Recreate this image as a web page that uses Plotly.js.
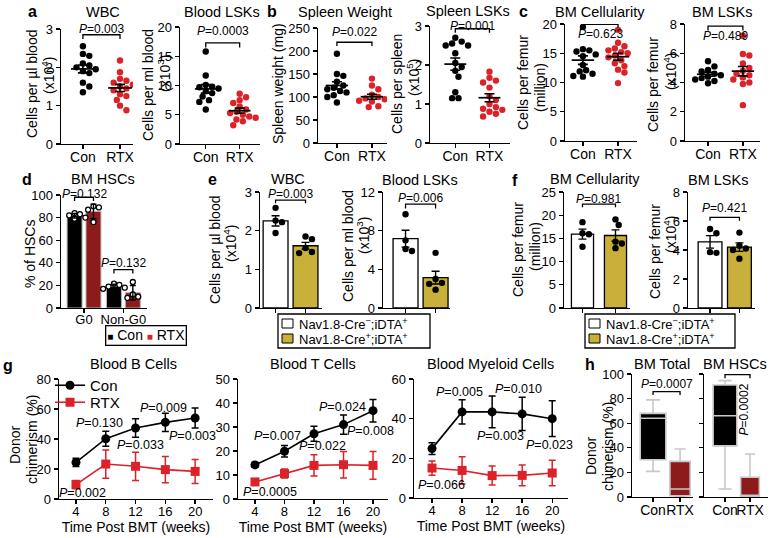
<!DOCTYPE html>
<html><head><meta charset="utf-8">
<script src="https://cdn.plot.ly/plotly-3.0.1.min.js"></script>
<style>body{margin:0;background:#fff}#chart{width:772px;height:538px}</style>
</head><body><div id="chart"></div>
<script>
// ---------------- DATA ----------------
const cats = ["Con", "RTX"];
// a
const wbcCon = [2.55, 2.35, 2.3, 2.1, 2.05, 2.0, 1.95, 1.9, 1.85, 1.6, 1.5, 1.35];
const wbcRtx = [2.18, 1.87, 1.7, 1.65, 1.6, 1.55, 1.5, 1.45, 1.4, 1.3, 1.25, 1.15, 1.0, 0.88];
const bloodLskCon = [15.8, 11.7, 10.1, 9.8, 9.7, 9.5, 9.0, 8.7, 8.1, 7.5, 7.2, 5.9];
const bloodLskRtx = [8.6, 8.0, 7.5, 7.0, 6.4, 5.9, 5.5, 5.3, 5.0, 4.7, 4.5, 4.2, 3.9, 3.2];
// b
const spleenWCon = [194, 150, 146, 133, 125, 120, 117, 113, 110, 104, 100, 88];
const spleenWRtx = [140, 125, 117, 105, 100, 97, 95, 92, 90, 88, 80, 78];
const spleenLskCon = [2.7, 2.6, 2.55, 2.5, 2.5, 2.3, 2.05, 1.95, 1.85, 1.7, 1.3, 1.15, 1.15];
const spleenLskRtx = [1.83, 1.67, 1.6, 1.55, 1.42, 1.2, 1.1, 1.0, 0.92, 0.88, 0.85, 0.8, 0.75, 0.68];
// c
const bmCellCon = [19.5, 15.7, 15.5, 15.3, 14.8, 14.5, 13.0, 12.1, 11.9, 11.5, 11.1, 11.0];
const bmCellRtx = [19.0, 16.8, 16.2, 15.8, 15.5, 15.2, 15.0, 14.6, 14.3, 13.8, 13.3, 12.8, 12.2, 11.7, 9.9];
const bmLskCon = [5.45, 5.1, 4.85, 4.75, 4.6, 4.5, 4.4, 4.3, 4.2, 4.1, 3.95];
const bmLskRtx = [7.2, 5.95, 5.85, 5.3, 5.0, 4.8, 4.6, 4.5, 4.35, 4.2, 4.0, 3.9, 2.45];
// d
const phases = ["G0", "Non-G0"];
const hscConG0 = [84, 83, 82, 80, 79];
const hscRtxG0 = [90, 89, 87, 76];
const hscConNon = [21.5, 20.5, 19, 18, 17];
const hscRtxNon = [23, 12, 10, 9];
// e, f
const dtaNames = ["Nav1.8-Cre<sup>−</sup>;iDTA<sup>+</sup>", "Nav1.8-Cre<sup>+</sup>;iDTA<sup>+</sup>"];
const eWbcNeg = [2.59, 2.26, 2.22, 1.94];
const eWbcPos = [1.85, 1.78, 1.55, 1.45, 1.42];
const eLskNeg = [9.7, 7.0, 6.1, 5.9];
const eLskPos = [5.7, 3.0, 2.6, 2.5, 1.9];
const fCellNeg = [18.5, 16.1, 15.9, 13.2];
const fCellPos = [19.1, 17.9, 14.3, 13.9, 12.9];
const fLskNeg = [5.45, 5.15, 3.85, 3.8];
const fLskPos = [5.2, 4.3, 4.1, 4.0, 3.4];
// g
const weeks = [4, 8, 12, 16, 20];
const bCon = [24.4, 40.2, 47.3, 51.1, 54.0], bConErr = [2.8, 5.0, 6.2, 6.1, 6.7];
const bRtx = [9.6, 23.3, 21.8, 19.6, 18.4], bRtxErr = [2.8, 9.4, 9.4, 8.7, 8.0];
const tCon = [14.2, 19.9, 27.2, 31.0, 36.8], tConErr = [1.0, 2.4, 3.1, 4.0, 4.7];
const tRtx = [7.1, 10.6, 14.0, 14.3, 14.0], tRtxErr = [1.0, 1.9, 4.4, 5.5, 5.8];
const mCon = [24.9, 43.4, 43.4, 42.4, 40.0], mConErr = [3.0, 6.1, 8.0, 8.4, 9.0];
const mRtx = [15.1, 13.9, 11.3, 11.4, 12.6], mRtxErr = [3.6, 6.9, 4.8, 5.2, 6.4];
// h  [lowerfence, q1, median, q3, upperfence]
const hTotalCon = [20.8, 30.3, 64, 68, 79];
const hTotalRtx = [0, 1, 6.5, 29, 39];
const hHscCon = [6.5, 41.6, 66, 91, 94.6];
const hHscRtx = [0, 0.5, 1, 16, 35];

// ---------------- LAYOUT GEOMETRY (pixels) ----------------
const W = 772, H = 538;
const RED = "#dc2229", DRED = "#8e1b1b", GOLD = "#c9b03a";
const FONT = "Liberation Sans, Arial, sans-serif";
const S = {
  1: {L:61, R:133, T:29, B:144, xr:[-0.59,1.35], yr:[0,3], dt:1},
  2: {L:180, R:260, T:27, B:144, xr:[-0.76,1.6], yr:[0,20], dt:5},
  3: {L:318, R:387, T:28, B:143, xr:[-0.54,1.43], yr:[0,250], dt:50},
  4: {L:430, R:510, T:26, B:143, xr:[-0.74,1.6], yr:[0,3], dt:1},
  5: {L:565, R:637, T:24, B:141, xr:[-0.51,1.54], yr:[0,20], dt:5},
  6: {L:685, R:760, T:24, B:141, xr:[-0.66,1.49], yr:[0,8], dt:2},
  7: {L:61, R:147, T:195, B:308, xr:[-0.585,1.6], yr:[0,100], dt:20},
  8: {L:260, R:322, T:192, B:308, xr:[-0.52,1.55], yr:[0,3], dt:1, bw:0.83},
  9: {L:383, R:450, T:192, B:308, xr:[-0.75,1.48], yr:[0,12], dt:4, bw:0.83},
  10:{L:564, R:630, T:192, B:308, xr:[-0.56,1.44], yr:[0,25], dt:5, bw:0.67},
  11:{L:688, R:755, T:192, B:308, xr:[-0.75,1.53], yr:[0,8], dt:2, bw:0.81},
  12:{L:59, R:213, T:379, B:499, xr:[1.72,22.4], yr:[0,80], dt:20},
  13:{L:238, R:388, T:379, B:499, xr:[1.7,22.03], yr:[0,50], dt:10},
  14:{L:414, R:568, T:379, B:498, xr:[1.6,22.1], yr:[0,60], dt:20},
  15:{L:632, R:693, T:374, B:497, xr:[-0.78,1.48], yr:[0,100], dt:20},
  16:{L:704, R:768, T:374, B:497, xr:[-0.84,1.72], yr:[0,100], dt:20}
};
const id = i => (i === 1 ? "" : String(i));
const pxX = i => (S[i].R - S[i].L) / (S[i].xr[1] - S[i].xr[0]);
const pxY = i => (S[i].B - S[i].T) / (S[i].yr[1] - S[i].yr[0]);
const mean = v => v.reduce((a, b) => a + b, 0) / v.length;
const sd = v => { const m = mean(v); return Math.sqrt(v.reduce((a, b) => a + (b - m) ** 2, 0) / (v.length - 1)); };
const sem = v => sd(v) / Math.sqrt(v.length);

// beeswarm offsets computed from the data values
function swarm(vals, center, i, diam) {
  const kx = pxX(i), ky = pxY(i);
  const placed = [], out = new Array(vals.length);
  const order = vals.map((v, k) => k).sort((a, b) => vals[b] - vals[a]);
  for (const k of order) {
    const py = vals[k] * ky;
    let off = 0;
    for (let n = 0; n < 60; n++) {
      const cand = n === 0 ? 0 : (n % 2 ? 1 : -1) * Math.ceil(n / 2) * diam * 0.5;
      if (placed.every(p => (p.px - cand) ** 2 + (p.py - py) ** 2 >= diam * diam * 0.92)) { off = cand; break; }
    }
    placed.push({px: off, py});
    out[k] = center + off / kx;
  }
  return out;
}

const traces = [];
const base = i => ({xaxis: "x" + id(i), yaxis: "y" + id(i), showlegend: false, hoverinfo: "skip"});

function meanSem(i, v, c, hw) {
  const m = mean(v);
  traces.push(Object.assign(base(i), {type: "scatter", mode: "lines", x: [c - hw, c + hw], y: [m, m], line: {color: "#000", width: 1.7}}));
  traces.push(Object.assign(base(i), {type: "scatter", mode: "markers", x: [c], y: [m], marker: {size: 1, color: "rgba(0,0,0,0)"},
    error_y: {type: "data", array: [sem(v)], color: "#000", thickness: 1.6, width: 5}}));
}
function dotPanel(i, con, rtx) {
  [[con, 0, "#000"], [rtx, 1, RED]].forEach(([v, c, col]) => {
    traces.push(Object.assign(base(i), {type: "scatter", mode: "markers", x: swarm(v, c, i, 6.4), y: v, marker: {color: col, size: 6.4}}));
  });
  [[con, 0], [rtx, 1]].forEach(([v, c]) => meanSem(i, v, c, 0.32));
}
dotPanel(1, wbcCon, wbcRtx);
dotPanel(2, bloodLskCon, bloodLskRtx);
dotPanel(3, spleenWCon, spleenWRtx);
dotPanel(4, spleenLskCon, spleenLskRtx);
dotPanel(5, bmCellCon, bmCellRtx);
dotPanel(6, bmLskCon, bmLskRtx);

// d : grouped bars with SD
(function () {
  const i = 7, w = 0.38;
  const grp = [[[hscConG0, hscConNon], -0.43, "#000"], [[hscRtxG0, hscRtxNon], 0.05, DRED]];
  grp.forEach(([sets, off, col]) => {
    traces.push(Object.assign(base(i), {type: "bar", x: [0, 1], y: sets.map(mean), width: [w, w], offset: [off, off],
      marker: {color: col, line: {color: "#b5b5b5", width: 1}}}));
  });
  grp.forEach(([sets, off]) => {
    sets.forEach((v, g) => {
      const c = g + off + w / 2;
      traces.push(Object.assign(base(i), {type: "scatter", mode: "markers", x: swarm(v, c, i, 5.4), y: v,
        marker: {color: "#fff", size: 5, line: {color: "#000", width: 1.3}}}));
      traces.push(Object.assign(base(i), {type: "scatter", mode: "markers", x: [c], y: [mean(v)], marker: {size: 1, color: "rgba(0,0,0,0)"},
        error_y: {type: "data", array: [sd(v)], color: "#000", thickness: 1.4, width: 3}}));
    });
  });
})();

// e, f : bars with SEM
function barPanel(i, neg, pos) {
  const bw = S[i].bw;
  [[neg, 0, "#fff"], [pos, 1, GOLD]].forEach(([v, c, col]) => {
    traces.push(Object.assign(base(i), {type: "bar", x: [c], y: [mean(v)], width: [bw], marker: {color: col, line: {color: "#000", width: 1.3}}}));
  });
  [[neg, 0], [pos, 1]].forEach(([v, c]) => {
    traces.push(Object.assign(base(i), {type: "scatter", mode: "markers", x: swarm(v, c, i, 6.4), y: v, marker: {color: "#000", size: 6.4}}));
    traces.push(Object.assign(base(i), {type: "scatter", mode: "markers", x: [c], y: [mean(v)], marker: {size: 1, color: "rgba(0,0,0,0)"},
      error_y: {type: "data", array: [sem(v)], color: "#000", thickness: 1.4, width: 4}}));
  });
}
barPanel(8, eWbcNeg, eWbcPos);
barPanel(9, eLskNeg, eLskPos);
barPanel(10, fCellNeg, fCellPos);
barPanel(11, fLskNeg, fLskPos);

// g : time courses
function linePanel(i, con, conE, rtx, rtxE, legend) {
  traces.push(Object.assign(base(i), {type: "scatter", mode: "lines+markers", name: "Con", x: weeks, y: con, showlegend: legend, legend: "legend",
    line: {color: "#000", width: 1.6}, marker: {symbol: "circle", size: 9, color: "#000"},
    error_y: {type: "data", array: conE, color: "#000", thickness: 1.5, width: 3.5}}));
  traces.push(Object.assign(base(i), {type: "scatter", mode: "lines+markers", name: "RTX", x: weeks, y: rtx, showlegend: legend, legend: "legend2",
    line: {color: RED, width: 1.6}, marker: {symbol: "square", size: 9, color: RED},
    error_y: {type: "data", array: rtxE, color: RED, thickness: 1.5, width: 3.5}}));
}
linePanel(12, bCon, bConErr, bRtx, bRtxErr, true);
linePanel(13, tCon, tConErr, tRtx, tRtxErr, false);
linePanel(14, mCon, mConErr, mRtx, mRtxErr, false);

// h : box plots from summary stats
function boxPanel(i, con, rtx) {
  [[con, 0, "#000", 0.95], [rtx, 1, DRED, 0.75]].forEach(([s, c, col, w]) => {
    traces.push(Object.assign(base(i), {type: "box", x: [c], lowerfence: [s[0]], q1: [s[1]], median: [s[2]], q3: [s[3]], upperfence: [s[4]],
      width: w, whiskerwidth: 0.55, fillcolor: col, line: {color: "#c8c8c8", width: 1.6}, boxpoints: false}));
  });
}
boxPanel(15, hTotalCon, hTotalRtx);
boxPanel(16, hHscCon, hHscRtx);

// ---------------- AXES ----------------
const legBase = {xanchor: "left", yanchor: "top", bgcolor: "rgba(0,0,0,0)", font: {size: 15}, tracegroupgap: 0, itemwidth: 30};
const layout = {width: W, height: H, margin: {l: 0, r: 0, t: 0, b: 0}, paper_bgcolor: "#fff", plot_bgcolor: "rgba(0,0,0,0)",
  font: {family: FONT, color: "#000", size: 13}, barmode: "overlay", showlegend: true,
  legend: Object.assign({x: 50 / W, y: 1 - 369 / H}, legBase),
  legend2: Object.assign({x: 50 / W, y: 1 - 386 / H}, legBase),
  annotations: [], shapes: []};
for (let i = 1; i <= 16; i++) {
  const s = S[i];
  const common = {showgrid: false, zeroline: false, showline: true, linecolor: "#000", linewidth: 1.4, ticks: "outside",
    ticklen: 4, tickwidth: 1.4, tickcolor: "#000", fixedrange: true};
  const xa = Object.assign({}, common, {domain: [s.L / W, s.R / W], range: s.xr, anchor: "y" + id(i), tickfont: {size: 14},
    tickangle: 0, ticklabelstandoff: -4});
  if (i <= 6 || i >= 15) { xa.tickvals = [0, 1]; xa.ticktext = cats; }
  else if (i === 7) { xa.tickvals = [0, 1]; xa.ticktext = phases; xa.tickfont = {size: 13}; xa.ticklabelstandoff = -5; }
  else if (i <= 11) { xa.tickvals = [0, 1]; xa.showticklabels = false; }
  else { xa.tickvals = weeks; xa.tickfont = {size: 13}; xa.title = {text: "Time Post BMT (weeks)", font: {size: 14}, standoff: 1}; }
  const ya = Object.assign({}, common, {domain: [1 - s.B / H, 1 - s.T / H], range: s.yr, dtick: s.dt, tick0: 0, anchor: "x" + id(i), tickfont: {size: 13}});
  if (i === 16) ya.showticklabels = false;
  layout["xaxis" + id(i)] = xa;
  layout["yaxis" + id(i)] = ya;
}

// ---------------- TEXT ----------------
const A = layout.annotations, SH = layout.shapes;
function ptext(px, py, text, size, bold, angle) {
  A.push({xref: "paper", yref: "paper", x: px / W, y: 1 - py / H, text: bold ? "<b>" + text + "</b>" : text, showarrow: false,
    xanchor: "center", yanchor: "middle", font: {size: size || 14}, textangle: angle || 0});
}
// y-axis titles, one line per annotation
[["Cells per µl blood", 32, 84], ["(x10<sup>4</sup>)", 48, 76], ["Cells per ml blood", 148, 85], ["(x10<sup>3</sup>)", 164, 74],
 ["Spleen weight (mg)", 278, 84], ["Cells per spleen", 397, 84], ["(x10<sup>5</sup>)", 413, 78],
 ["Cells per femur", 523, 83], ["(million)", 540, 88], ["Cells per femur", 653, 85], ["(x10<sup>4</sup>)", 670, 72],
 ["% of HSCs", 30, 254], ["Cells per µl blood", 215, 250], ["(x10<sup>4</sup>)", 230, 244], ["Cells per ml blood", 348, 246], ["(x10<sup>3</sup>)", 363, 236],
 ["Cells per femur", 518, 250], ["(million)", 535, 247], ["Cells per femur", 655, 252], ["(x10<sup>4</sup>)", 670, 235],
 ["Donor", 15, 445], ["chimerism (%)", 32, 440], ["Donor", 591, 456], ["chimerism (%)", 608, 447]]
  .forEach(([t, x, y]) => ptext(x, y, t, 14, false, -90));
[["a", 32, 12], ["b", 272, 12], ["c", 523, 12], ["d", 27, 179], ["e", 213, 179], ["f", 515, 181], ["g", 8, 365], ["h", 590, 364]]
  .forEach(([t, x, y]) => ptext(x, y, t, 16, true));
[["WBC", 103, 12], ["Blood LSKs", 222, 12], ["Spleen Weight", 345, 12], ["Spleen LSKs", 468, 11], ["BM Cellularity", 600, 12], ["BM LSKs", 722, 12],
 ["BM HSCs", 103, 179], ["WBC", 288, 179], ["Blood LSKs", 420, 180], ["BM Cellularity", 595, 179], ["BM LSKs", 718, 180],
 ["Blood B Cells", 133, 364], ["Blood T Cells", 313, 364], ["Blood Myeloid Cells", 490, 364], ["BM Total", 662, 364], ["BM HSCs", 735, 364]]
  .forEach(([t, x, y]) => ptext(x, y, t, 14.5));

function bracket(i, x0, x1, yt, yl, text, ty, shift) {
  SH.push({type: "path", xref: "x" + id(i), yref: "y" + id(i), path: `M${x0},${yl} L${x0},${yt} L${x1},${yt} L${x1},${yl}`, line: {color: "#000", width: 1.3}});
  if (text) A.push({xref: "x" + id(i), yref: "y" + id(i), x: (x0 + x1) / 2, y: ty, yshift: shift || 0, text: text, showarrow: false, font: {size: 12}});
}
const P = v => "<i>P</i>=" + v;
bracket(1, 0, 1, 2.85, 2.74, P("0.003"), 3.0);
bracket(2, 0, 1, 17.3, 16.5, P("0.0003"), 19.3);
bracket(3, 0, 1, 219, 211, P("0.022"), 242);
bracket(4, 0, 1, 2.93, 2.83, P("0.001"), 3.0, 0);
bracket(5, 0, 1, 19.95, 19.4, P("0.623"), 18.3);
bracket(6, 0, 1, 7.85, 7.55, P("0.489"), 7.2);
bracket(7, -0.24, 0.24, 98, 94.7, P("0.132"), 100, 1);
bracket(7, 0.76, 1.24, 34, 30.6, P("0.132"), 40);
bracket(8, 0, 1, 2.79, 2.71, P("0.003"), 2.95);
bracket(9, 0, 1, 10.75, 10.3, P("0.006"), 11.4);
bracket(10, 0, 1, 22.4, 21.7, P("0.981"), 23.5);
bracket(11, 0, 1, 6.25, 6.02, P("0.421"), 6.9);
bracket(15, 0, 1, 85.6, 82.9, P("0.0007"), 91.5);
bracket(16, 0, 1, 99.5, 96.5, null);
A.push({xref: "x16", yref: "y16", x: 0.75, y: 71, text: P("0.0002"), textangle: -90, showarrow: false, font: {size: 12}});

function gtext(i, x, y, v) { A.push({xref: "x" + id(i), yref: "y" + id(i), x, y, text: P(v), showarrow: false, font: {size: 12.5}}); }
gtext(12, 7.2, 50.7, "0.130"); gtext(12, 12.6, 36, "0.033"); gtext(12, 15.7, 61, "0.009"); gtext(12, 19.6, 42, "0.003"); gtext(12, 4.9, 4, "0.002");
gtext(13, 7.1, 26.1, "0.007"); gtext(13, 13.1, 21.9, "0.022"); gtext(13, 15.9, 38.3, "0.024"); gtext(13, 19.6, 28.5, "0.008"); gtext(13, 6.0, 2.8, "0.0005");
gtext(14, 7.6, 53.3, "0.005"); gtext(14, 13.1, 31.4, "0.003"); gtext(14, 15.5, 55, "0.010"); gtext(14, 19.7, 26.9, "0.023"); gtext(14, 5.3, 6.7, "0.066");

// d legend
A.push({xref: "paper", yref: "paper", x: 104.5 / W, y: 1 - 335 / H, showarrow: false, borderpad: 1, bordercolor: "#000", borderwidth: 1.3,
  text: `<span style="color:#000;font-size:10px">■</span> ${cats[0]} <span style="color:${RED};font-size:10px">■</span> ${cats[1]}`, font: {size: 14}});
// e / f legends
function boxLegend(L, R) {
  SH.push({type: "rect", xref: "paper", yref: "paper", x0: L / W, x1: R / W, y0: 1 - 348 / H, y1: 1 - 314 / H, line: {color: "#000", width: 1.3}, fillcolor: "rgba(0,0,0,0)"});
  [["#fff", 319, 328, 324], [GOLD, 334, 343, 339]].forEach(([col, t, b, ty], k) => {
    SH.push({type: "rect", xref: "paper", yref: "paper", x0: (L + 4) / W, x1: (L + 15) / W, y0: 1 - b / H, y1: 1 - t / H, line: {color: "#000", width: 1}, fillcolor: col});
    A.push({xref: "paper", yref: "paper", x: (L + 19) / W, y: 1 - ty / H, xanchor: "left", yanchor: "middle", showarrow: false, text: dtaNames[k], font: {size: 13}});
  });
}
boxLegend(278, 430);
boxLegend(585, 735);

Plotly.newPlot("chart", traces, layout, {staticPlot: true, displayModeBar: false});
</script></body></html>
